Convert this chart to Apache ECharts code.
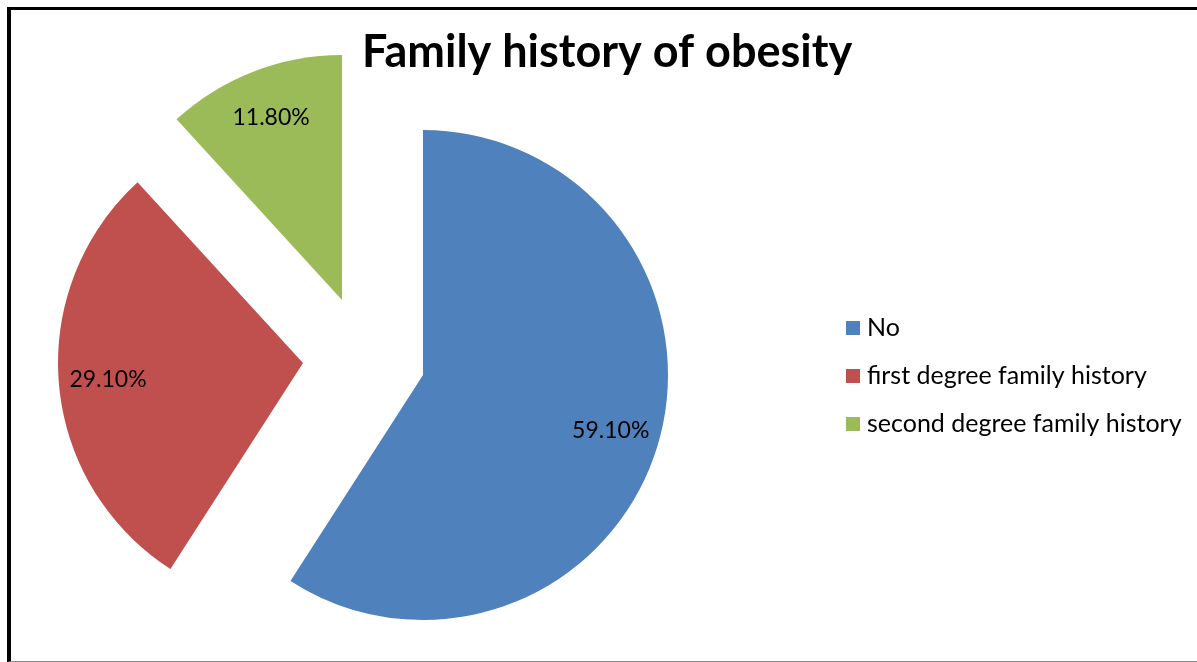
<!DOCTYPE html>
<html>
<head>
<meta charset="utf-8">
<script src="https://cdn.jsdelivr.net/npm/echarts@6/dist/echarts.min.js"></script>
<style>
  html, body { margin:0; padding:0; background:#fff; }
  #wrap { position:relative; width:1197px; height:662px; overflow:hidden; }
  #chart { width:1197px; height:662px; }
  #frame { position:absolute; left:7px; top:7px; right:-10px; bottom:0; box-sizing:border-box;
           border-top:3px solid #000; border-left:4px solid #000; border-bottom:1px solid #888; pointer-events:none; }
</style>
</head>
<body>
<div id="wrap">
  <div id="chart"></div>
  <div id="frame"></div>
</div>
<script>
const categories = ['No', 'first degree family history', 'second degree family history'];
const values = [59.1, 29.1, 11.8];
const colors = ['#4F81BD', '#C0504D', '#9BBB59'];
// each slice is pulled out on its own, so every slice gets its own centre
const centers = [[423, 375], [303, 363], [342, 300]];
const pieRadius = 245;
const labelRadius = 191;

const myChart = echarts.init(document.getElementById('chart'));

let seriesData = categories.map((name, s) => {
    return {
        type: 'pie',
        name: name,
        center: centers[s],
        radius: [0, pieRadius],
        startAngle: 90,
        clockwise: true,
        avoidLabelOverlap: false,
        emphasis: { scale: false },
        label: {
            show: true,
            position: 'inside',
            color: '#000',
            fontFamily: 'Lato',
            fontSize: 23,
            formatter: (p) => p.value.toFixed(2) + '%'
        },
        labelLine: { show: false },
        labelLayout: (params) => {
            // push the inside label out from mid radius to where Excel puts it
            let c = centers[params.seriesIndex];
            let r = params.labelRect;
            let lx = r.x + r.width / 2, ly = r.y + r.height / 2;
            let k = labelRadius / (pieRadius / 2) - 1;
            return { dx: (lx - c[0]) * k, dy: (ly - c[1]) * k };
        },
        data: categories.map((n, i) => {
            let item = { name: n, value: values[i], itemStyle: { color: colors[i] } };
            if (i !== s) {
                item.itemStyle = { color: 'rgba(0,0,0,0)' };
                item.label = { show: false };
                item.emphasis = { disabled: true };
            }
            return item;
        })
    };
});

let option = {
    animation: false,
    title: {
        text: 'Family history of obesity',
        left: 362,
        top: 30,
        padding: 0,
        textStyle: { fontFamily: 'Lato', fontWeight: 'bold', fontSize: 45, color: '#000' }
    },
    legend: {
        orient: 'vertical',
        left: 846,
        top: 315,
        padding: 0,
        itemWidth: 14,
        itemHeight: 14,
        itemGap: 22,
        icon: 'rect',
        textStyle: { fontFamily: 'Lato', fontSize: 25, color: '#000', lineHeight: 26, padding: [0, 0, 0, 2] },
        data: categories.map((n, i) => ({ name: n, itemStyle: { color: colors[i] } }))
    },
    series: seriesData
};
myChart.setOption(option);
</script>
</body>
</html>
